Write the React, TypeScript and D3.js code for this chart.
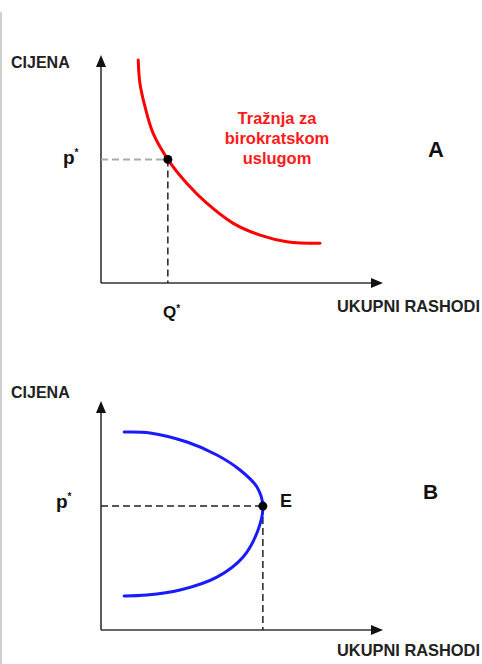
import React from "react";
import * as d3 from "d3";

const W = 482;
const H = 664;

// Panel A: demand curve for bureaucratic service (data units 0..100)
const demandX = [13.2, 13.8, 15.6, 18.5, 23.7, 30.4, 37.5, 46.9, 56.4, 65.9, 77.7];
const demandY = [98.7, 88.4, 78.0, 66.2, 54.7, 44.1, 35.3, 26.4, 21.2, 18.3, 17.6];
const pointA = { x: 23.7, y: 54.7 };

// Panel B: total expenditure curve
const budgetX = [8.2, 17.4, 30.5, 41.1, 49.3, 55.3, 57.4, 55.7, 50.4, 41.1, 28.0, 16.3, 8.2];
const budgetY = [87.2, 86.8, 82.8, 77.1, 70.5, 63.0, 54.6, 44.1, 32.2, 23.3, 17.6, 15.4, 15.0];
const pointB = { x: 57.4, y: 54.6 };

const yLabel = "CIJENA";
const xLabel = "UKUPNI RASHODI";
const demandLabel = ["Tražnja za", "birokratskom", "uslugom"];

const FONT = "'Liberation Sans', Arial, Helvetica, sans-serif";

function Axes({ x0, x1, y0, y1 }: { x0: number; x1: number; y0: number; y1: number }) {
  return (
    <g>
      <line x1={x0} y1={y0} x2={x0} y2={y1 + 8} stroke="#333" strokeWidth={1.6} />
      <line x1={x0} y1={y0} x2={x1 - 8} y2={y0} stroke="#333" strokeWidth={1.6} />
      <path d={`M${x0},${y1} L${x0 - 5},${y1 + 12} L${x0 + 5},${y1 + 12} Z`} fill="#111" />
      <path d={`M${x1},${y0} L${x1 - 12},${y0 - 5} L${x1 - 12},${y0 + 5} Z`} fill="#111" />
    </g>
  );
}

export default function App() {
  // Panel A scales
  const xA = d3.scaleLinear().domain([0, 100]).range([101, 383]);
  const yA = d3.scaleLinear().domain([0, 100]).range([283, 57]);
  // Panel B scales
  const xB = d3.scaleLinear().domain([0, 100]).range([101, 383]);
  const yB = d3.scaleLinear().domain([0, 100]).range([630, 403]);

  const lineA = d3
    .line<number>()
    .x((d, i) => xA(demandX[i]))
    .y((d, i) => yA(demandY[i]))
    .curve(d3.curveCatmullRom.alpha(0.5));
  const lineB = d3
    .line<number>()
    .x((d, i) => xB(budgetX[i]))
    .y((d, i) => yB(budgetY[i]))
    .curve(d3.curveCatmullRom.alpha(0.5));

  const bold = { fontFamily: FONT, fontWeight: 700 } as const;

  return (
    <svg
      width={W}
      height={H}
      style={{ position: "absolute", left: 0, top: 0, background: "#fff" }}
    >
      <rect x={0} y={0} width={W} height={H} fill="#fff" />
      <line x1={1} y1={12} x2={1} y2={H} stroke="#cfcfcf" strokeWidth={2} />

      {/* Panel A */}
      <text x={11} y={68} fontSize={16} fill="#222" {...bold}>
        {yLabel}
      </text>
      <Axes x0={xA(0)} x1={xA(100)} y0={yA(0)} y1={yA(100) - 2} />
      <line
        x1={xA(0)}
        y1={yA(pointA.y)}
        x2={xA(pointA.x)}
        y2={yA(pointA.y)}
        stroke="#aaa"
        strokeWidth={2}
        strokeDasharray="7,4"
      />
      <line
        x1={xA(pointA.x)}
        y1={yA(pointA.y)}
        x2={xA(pointA.x)}
        y2={yA(0)}
        stroke="#222"
        strokeWidth={1.5}
        strokeDasharray="7,4"
      />
      <path d={lineA(demandX) || ""} fill="none" stroke="#ff0000" strokeWidth={3} strokeLinecap="round" />
      <circle cx={xA(pointA.x)} cy={yA(pointA.y)} r={4.5} fill="#000" />
      {demandLabel.map((t, i) => (
        <text
          key={t}
          x={277}
          y={124 + i * 20}
          textAnchor="middle"
          fontSize={16.5}
          fill="#ff1a1a"
          {...bold}
        >
          {t}
        </text>
      ))}
      <text x={63} y={164} fontSize={19} fill="#111" {...bold}>
        p<tspan fontSize={10} dy={-8}>*</tspan>
      </text>
      <text x={163} y={318} fontSize={17} fill="#111" {...bold}>
        Q<tspan fontSize={10} dy={-6}>*</tspan>
      </text>
      <text x={337} y={312} fontSize={16.4} fill="#222" {...bold}>
        {xLabel}
      </text>
      <text x={428} y={157} fontSize={22} fill="#111" {...bold}>
        A
      </text>

      {/* Panel B */}
      <text x={11} y={398} fontSize={16} fill="#222" {...bold}>
        {yLabel}
      </text>
      <Axes x0={xB(0)} x1={xB(100)} y0={yB(0)} y1={yB(100) - 2} />
      <line
        x1={xB(0)}
        y1={yB(pointB.y)}
        x2={xB(pointB.x)}
        y2={yB(pointB.y)}
        stroke="#222"
        strokeWidth={1.5}
        strokeDasharray="7,4"
      />
      <line
        x1={xB(pointB.x)}
        y1={yB(pointB.y)}
        x2={xB(pointB.x)}
        y2={yB(0)}
        stroke="#222"
        strokeWidth={1.5}
        strokeDasharray="7,4"
      />
      <path d={lineB(budgetX) || ""} fill="none" stroke="#1a1aff" strokeWidth={3} strokeLinecap="round" />
      <circle cx={xB(pointB.x)} cy={yB(pointB.y)} r={4.5} fill="#000" />
      <text x={56} y={508} fontSize={19} fill="#111" {...bold}>
        p<tspan fontSize={10} dy={-8}>*</tspan>
      </text>
      <text x={280} y={507} fontSize={18} fill="#111" {...bold}>
        E
      </text>
      <text x={423} y={499} fontSize={21} fill="#111" {...bold}>
        B
      </text>
      <text x={337} y={656} fontSize={16.4} fill="#222" {...bold}>
        {xLabel}
      </text>
    </svg>
  );
}
